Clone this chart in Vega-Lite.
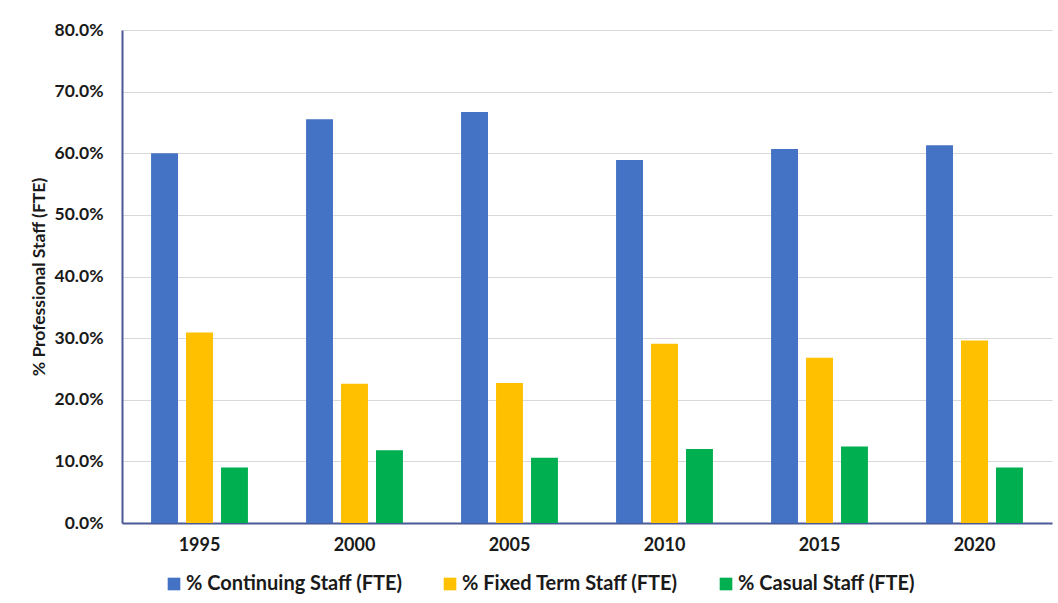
{
  "$schema": "https://vega.github.io/schema/vega-lite/v6.json",
  "width": 930,
  "height": 493,
  "autosize": {"type": "none"},
  "padding": {"left": 122, "top": 30, "right": 6, "bottom": 80},
  "background": "white",
  "data": {
    "values": [
      {"year": "1995", "series": "% Continuing Staff (FTE)", "share": 0.600},
      {"year": "1995", "series": "% Fixed Term Staff (FTE)", "share": 0.309},
      {"year": "1995", "series": "% Casual Staff (FTE)", "share": 0.090},
      {"year": "2000", "series": "% Continuing Staff (FTE)", "share": 0.655},
      {"year": "2000", "series": "% Fixed Term Staff (FTE)", "share": 0.226},
      {"year": "2000", "series": "% Casual Staff (FTE)", "share": 0.118},
      {"year": "2005", "series": "% Continuing Staff (FTE)", "share": 0.667},
      {"year": "2005", "series": "% Fixed Term Staff (FTE)", "share": 0.227},
      {"year": "2005", "series": "% Casual Staff (FTE)", "share": 0.106},
      {"year": "2010", "series": "% Continuing Staff (FTE)", "share": 0.589},
      {"year": "2010", "series": "% Fixed Term Staff (FTE)", "share": 0.291},
      {"year": "2010", "series": "% Casual Staff (FTE)", "share": 0.120},
      {"year": "2015", "series": "% Continuing Staff (FTE)", "share": 0.607},
      {"year": "2015", "series": "% Fixed Term Staff (FTE)", "share": 0.268},
      {"year": "2015", "series": "% Casual Staff (FTE)", "share": 0.124},
      {"year": "2020", "series": "% Continuing Staff (FTE)", "share": 0.613},
      {"year": "2020", "series": "% Fixed Term Staff (FTE)", "share": 0.296},
      {"year": "2020", "series": "% Casual Staff (FTE)", "share": 0.090}
    ]
  },
  "mark": {"type": "bar"},
  "encoding": {
    "x": {
      "field": "year",
      "type": "nominal",
      "scale": {"paddingInner": 0.375, "paddingOuter": 0.1875},
      "axis": {
        "title": null,
        "labelAngle": 0,
        "labelFont": "Lato",
        "labelFontWeight": "bold",
        "labelFontSize": 18,
        "labelColor": "#1a1a1a",
        "labelPadding": 13,
        "ticks": false,
        "domain": true,
        "domainColor": "#4A5A96",
        "domainWidth": 2,
        "grid": false
      }
    },
    "xOffset": {
      "field": "series",
      "type": "nominal",
      "sort": ["% Continuing Staff (FTE)", "% Fixed Term Staff (FTE)", "% Casual Staff (FTE)"],
      "scale": {"paddingInner": 0.23, "paddingOuter": 0}
    },
    "y": {
      "field": "share",
      "type": "quantitative",
      "scale": {"domain": [0, 0.8], "nice": false},
      "axis": {
        "title": "% Professional Staff (FTE)",
        "titleFont": "Lato",
        "titleFontWeight": "bold",
        "titleFontSize": 17.5,
        "titleColor": "#1a1a1a",
        "titlePadding": 6,
        "format": ".1%",
        "values": [0, 0.1, 0.2, 0.3, 0.4, 0.5, 0.6, 0.7, 0.8],
        "labelFont": "Lato",
        "labelFontWeight": "bold",
        "labelFontSize": 17.5,
        "labelColor": "#1a1a1a",
        "labelPadding": 19,
        "ticks": false,
        "domain": true,
        "domainColor": "#4A5A96",
        "domainWidth": 2,
        "grid": true,
        "gridColor": "#D9D9D9",
        "gridWidth": 1
      }
    },
    "color": {
      "field": "series",
      "type": "nominal",
      "sort": ["% Continuing Staff (FTE)", "% Fixed Term Staff (FTE)", "% Casual Staff (FTE)"],
      "scale": {
        "domain": ["% Continuing Staff (FTE)", "% Fixed Term Staff (FTE)", "% Casual Staff (FTE)"],
        "range": ["#4472C4", "#FFC000", "#00B050"]
      },
      "legend": {
        "title": null,
        "orient": "none",
        "direction": "horizontal",
        "legendX": 42,
        "legendY": 544,
        "symbolType": "square",
        "symbolSize": 160,
        "symbolStrokeWidth": 0,
        "labelFont": "Lato",
        "labelFontWeight": "bold",
        "labelFontSize": 20,
        "labelColor": "#1a1a1a",
        "labelOffset": 2,
        "columnPadding": 37,
        "labelLimit": 400
      }
    }
  },
  "config": {
    "view": {"stroke": null}
  }
}
